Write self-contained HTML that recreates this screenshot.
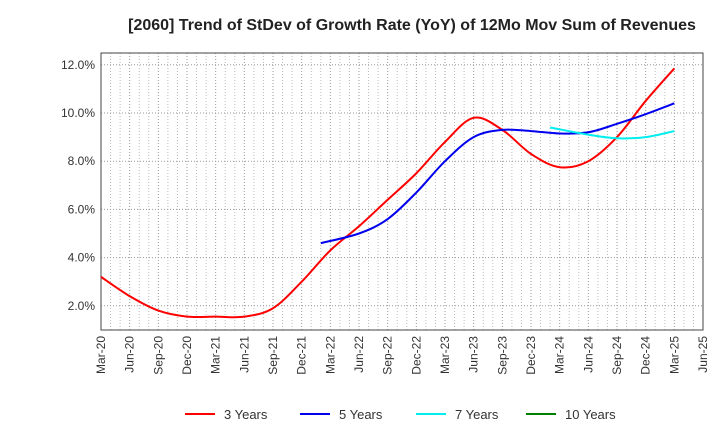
<!DOCTYPE html>
<html><head><meta charset="utf-8"><style>
body{margin:0;background:#fff;font-family:"Liberation Sans",sans-serif}
svg text{font-family:"Liberation Sans",sans-serif}
</style></head><body>
<svg id="chart" width="720" height="440" xmlns="http://www.w3.org/2000/svg">
<text x="412" y="30" text-anchor="middle" font-size="16" font-weight="bold" fill="#222">[2060]  Trend of StDev of Growth Rate (YoY) of 12Mo Mov Sum of Revenues</text>
<g id="grid"></g>
<g id="axes"></g>
<g id="series"></g>
<g id="legend"></g>
</svg>
<script>
const xLabels=["Mar-20","Jun-20","Sep-20","Dec-20","Mar-21","Jun-21","Sep-21","Dec-21","Mar-22","Jun-22","Sep-22","Dec-22","Mar-23","Jun-23","Sep-23","Dec-23","Mar-24","Jun-24","Sep-24","Dec-24","Mar-25","Jun-25"];
const yTicks=[2,4,6,8,10,12];
const redMonths=[0,3,6,9,12,15,18,21,24,27,30,33,36,39,42,45,48,51,54,57,60];
const redValues=[3.2,2.4,1.8,1.55,1.55,1.55,1.9,3.0,4.3,5.3,6.4,7.5,8.8,9.8,9.3,8.3,7.75,8.0,9.0,10.5,11.85];
const blueMonths=[23,27,30,33,36,39,42,45,48,51,54,57,60];
const blueValues=[4.6,5.0,5.6,6.7,8.0,9.0,9.3,9.25,9.15,9.2,9.55,9.95,10.4];
const cyanMonths=[47,51,54,57,60];
const cyanValues=[9.4,9.1,8.95,9.0,9.25];
const greenMonths=[];
const greenValues=[];
const L=101,R=703,T=53,B=330;
const X=m=>L+m*(R-L)/63;
const Y=v=>354-v*24.1;
const NS="http://www.w3.org/2000/svg";
function mk(tag,attrs,parent){const e=document.createElementNS(NS,tag);for(const k in attrs)e.setAttribute(k,attrs[k]);parent.appendChild(e);return e;}
const grid=document.getElementById('grid'),axes=document.getElementById('axes'),series=document.getElementById('series'),legend=document.getElementById('legend');
for(let m=1;m<63;m++){const l=mk('line',{x1:X(m),x2:X(m),y1:T,y2:B,stroke:m%3==0?'#999':'#bbb','stroke-width':1,'stroke-dasharray':'1,2'},grid);

}
yTicks.forEach(v=>{const l=mk('line',{x1:L,x2:R,y1:Y(v),y2:Y(v),stroke:'#999','stroke-width':1,'stroke-dasharray':'1,2'},grid);


const t=mk('text',{x:L-6,y:Y(v)+4,'text-anchor':'end','font-size':12,fill:'#333'},axes);t.textContent=v.toFixed(1)+'%';

});
const box=mk('rect',{x:L,y:T,width:R-L,height:B-T,fill:'none',stroke:'#444','stroke-width':1},axes);


xLabels.forEach((s,i)=>{const x=X(i*3);const t=mk('text',{x:x+4,y:B+6,'text-anchor':'end','font-size':12,fill:'#333',transform:`rotate(-90 ${x+4} ${B+6})`},axes);t.textContent=s;

});
function path(ms,vs){const p=ms.map((m,i)=>[X(m),Y(vs[i])]);if(!p.length)return '';let d=`M${p[0][0]},${p[0][1]}`;
for(let i=0;i<p.length-1;i++){const p0=p[i-1]||p[i],p1=p[i],p2=p[i+1],p3=p[i+2]||p2;
d+=` C${p1[0]+(p2[0]-p0[0])/6},${p1[1]+(p2[1]-p0[1])/6} ${p2[0]-(p3[0]-p1[0])/6},${p2[1]-(p3[1]-p1[1])/6} ${p2[0]},${p2[1]}`;}return d;}
const sets=[["3 Years",redMonths,redValues,"#ff0000",185],["5 Years",blueMonths,blueValues,"#0000ee",300],["7 Years",cyanMonths,cyanValues,"#00eeee",416],["10 Years",greenMonths,greenValues,"#008000",526]];
sets.forEach(([n,ms,vs,c,lx])=>{if(ms.length){const p=mk('path',{d:path(ms,vs),fill:'none',stroke:c,'stroke-width':2},series);

}
const g=mk('g',{},legend);


mk('line',{x1:lx,x2:lx+30,y1:414,y2:414,stroke:c,'stroke-width':2},g);
const t=mk('text',{x:lx+39,y:419,'font-size':13,fill:'#333'},g);t.textContent=n;});
</script>
</body></html>
